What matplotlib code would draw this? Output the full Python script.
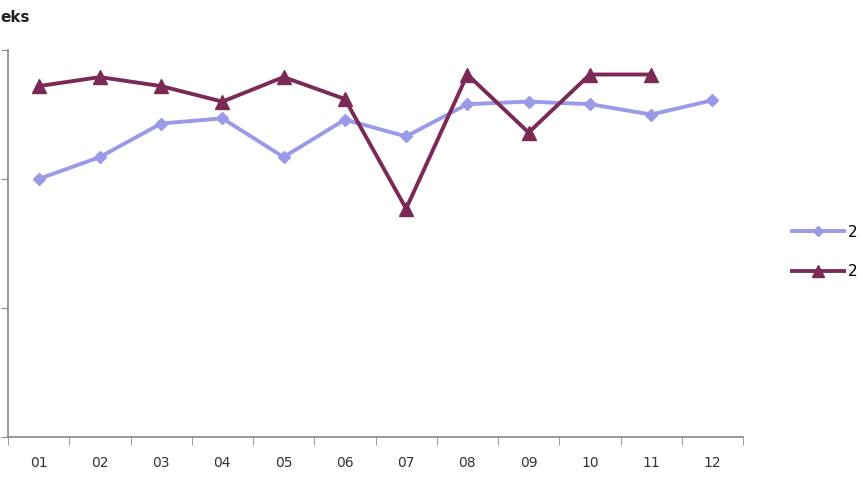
import numpy as np
import matplotlib.pyplot as plt

# Indeks po mjesecima, dvije godine
mjeseci = ["01", "02", "03", "04", "05", "06", "07", "08", "09", "10", "11", "12"]
godina_1 = [2.00, 2.17, 2.43, 2.47, 2.17, 2.46, 2.33, 2.58, 2.60, 2.58, 2.50, 2.61]
godina_2 = [2.72, 2.79, 2.72, 2.60, 2.79, 2.62, 1.77, 2.81, 2.36, 2.81, 2.81]
# legenda je u originalu odrezana na rubu slike
oznake = ["2", "2"]


def main():
    fig = plt.figure(figsize=(8.6, 4.8), dpi=100)
    ax = fig.add_axes([8 / 860, 43 / 480, 735 / 860, 387 / 480])

    x1 = np.arange(len(godina_1))
    x2 = np.arange(len(godina_2))
    ax.plot(x1, godina_1, color="#9a9ae8", lw=2.8, marker="D", ms=6,
            label=oznake[0])
    ax.plot(x2, godina_2, color="#7b2a55", lw=2.8, marker="^", ms=10,
            label=oznake[1])

    ax.set_xlim(-0.5, len(mjeseci) - 0.5)
    ax.set_ylim(0, 3)
    ax.set_yticks([0, 1, 2, 3])
    ax.set_yticklabels([])
    ax.tick_params(axis="y", length=5, color="#888888", direction="out")

    ax.set_xticks(x1)
    ax.set_xticklabels(mjeseci, fontsize=10, color="#333333")
    ax.set_xticks(np.arange(-0.5, len(mjeseci)), minor=True)
    ax.tick_params(axis="x", which="major", length=0, pad=14)
    ax.tick_params(axis="x", which="minor", length=6, color="#888888")

    for s in ["top", "right"]:
        ax.spines[s].set_visible(False)
    for s in ["left", "bottom"]:
        ax.spines[s].set_color("#888888")
        ax.spines[s].set_linewidth(1.2)

    fig.text(0.0, 462 / 480, "eks", fontsize=11, fontweight="bold",
             color="#222222", va="center", ha="left")

    fig.legend(loc="center left", bbox_to_anchor=(778 / 860, 228 / 480),
               frameon=False, handlelength=3.4, fontsize=11,
               labelspacing=1.6, markerscale=0.8, handletextpad=0.25)

    fig.savefig("out.png", dpi=100)


if __name__ == "__main__":
    main()
